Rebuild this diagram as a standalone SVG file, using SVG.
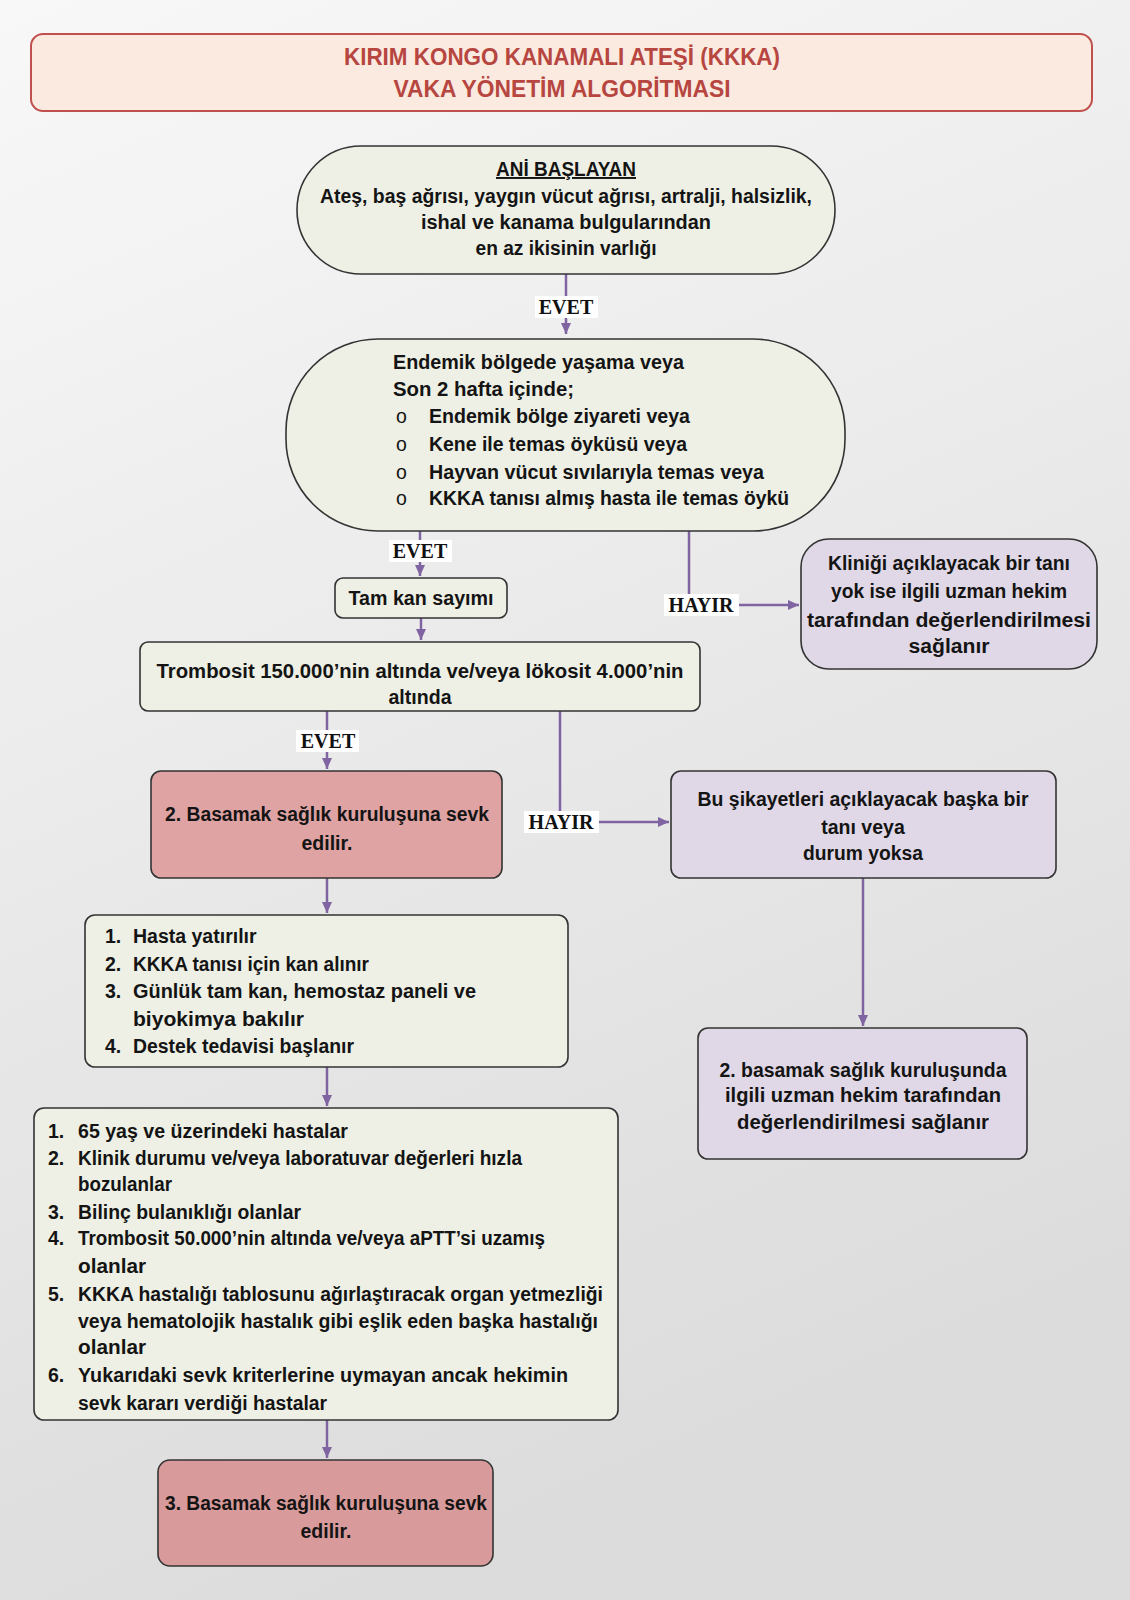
<svg xmlns="http://www.w3.org/2000/svg" width="1130" height="1600" viewBox="0 0 1130 1600">
<defs>
<linearGradient id="bg" x1="0" y1="0" x2="0.3" y2="1">
<stop offset="0" stop-color="#f8f8f8"/>
<stop offset="1" stop-color="#dcdcdc"/>
</linearGradient>
<marker id="ah" markerUnits="userSpaceOnUse" markerWidth="12" markerHeight="12" refX="11" refY="6" orient="auto">
<path d="M0,1 L11,6 L0,11 z" fill="#8064a2"/>
</marker>
<style>
.t{font-family:'Liberation Sans',Arial,sans-serif;font-weight:bold;font-size:19.5px;fill:#141414}
.c{text-anchor:middle}
.ttl{font-family:'Liberation Sans',Arial,sans-serif;font-weight:bold;font-size:23px;fill:#b6463f;text-anchor:middle}
.lbl{font-family:'Liberation Serif','Times New Roman',serif;font-weight:bold;font-size:20px;fill:#111;text-anchor:middle}
.lb{fill:#ffffff}
.conn{stroke:#8064a2;stroke-width:2.5;fill:none}
.g{fill:#eef0e5;stroke:#333;stroke-width:1.6}
.p{fill:#dfa3a3;stroke:#333;stroke-width:1.6}
.p2{fill:#d89a9a;stroke:#333;stroke-width:1.6}
.v{fill:#e0d8e6;stroke:#333;stroke-width:1.6}
</style>
</defs>
<rect x="0" y="0" width="1130" height="1600" fill="url(#bg)"/>

<g id="title">
<rect x="31" y="34" width="1061" height="77" rx="12" fill="#fbeadf" stroke="#c0504d" stroke-width="2"/>
<text class="ttl" x="562" y="65" textLength="436" lengthAdjust="spacingAndGlyphs">KIRIM KONGO KANAMALI ATEŞİ (KKKA)</text>
<text class="ttl" x="562" y="97" textLength="337" lengthAdjust="spacingAndGlyphs">VAKA YÖNETİM ALGORİTMASI</text>
</g>

<g id="connectors">
<path class="conn" d="M566,274 V334" marker-end="url(#ah)"/>
<rect class="lb" x="535" y="296" width="63" height="22"/>
<text class="lbl" x="566" y="314">EVET</text>

<path class="conn" d="M420,531 V576" marker-end="url(#ah)"/>
<rect class="lb" x="389" y="540" width="63" height="22"/>
<text class="lbl" x="420" y="558">EVET</text>

<path class="conn" d="M689,531 V605 H799" marker-end="url(#ah)"/>
<rect class="lb" x="664" y="594" width="75" height="22"/>
<text class="lbl" x="701" y="612">HAYIR</text>

<path class="conn" d="M421,618 V640" marker-end="url(#ah)"/>

<path class="conn" d="M327,711 V769" marker-end="url(#ah)"/>
<rect class="lb" x="296" y="730" width="63" height="22"/>
<text class="lbl" x="328" y="748">EVET</text>

<path class="conn" d="M560,711 V822 H669" marker-end="url(#ah)"/>
<rect class="lb" x="524" y="811" width="75" height="22"/>
<text class="lbl" x="561" y="829">HAYIR</text>

<path class="conn" d="M863,878 V1026" marker-end="url(#ah)"/>
<path class="conn" d="M327,878 V913" marker-end="url(#ah)"/>
<path class="conn" d="M327,1067 V1106" marker-end="url(#ah)"/>
<path class="conn" d="M327,1420 V1458" marker-end="url(#ah)"/>
</g>

<g id="n1">
<rect class="g" x="297" y="146" width="538" height="128" rx="64" ry="64"/>
<text class="t c" x="566" y="176" textLength="140" lengthAdjust="spacingAndGlyphs" text-decoration="underline">ANİ BAŞLAYAN</text>
<text class="t c" x="566" y="203" textLength="492" lengthAdjust="spacingAndGlyphs">Ateş, baş ağrısı, yaygın vücut ağrısı, artralji, halsizlik,</text>
<text class="t c" x="566" y="229" textLength="290" lengthAdjust="spacingAndGlyphs">ishal ve kanama bulgularından</text>
<text class="t c" x="566" y="255" textLength="181" lengthAdjust="spacingAndGlyphs">en az ikisinin varlığı</text>
</g>

<g id="n2">
<rect class="g" x="286" y="339" width="559" height="192" rx="92" ry="92"/>
<text class="t" x="393" y="369" textLength="291" lengthAdjust="spacingAndGlyphs">Endemik bölgede yaşama veya</text>
<text class="t" x="393" y="396" textLength="181" lengthAdjust="spacingAndGlyphs">Son 2 hafta içinde;</text>
<text class="t" x="396" y="423" style="font-weight:normal">o</text>
<text class="t" x="429" y="423" textLength="261" lengthAdjust="spacingAndGlyphs">Endemik bölge ziyareti veya</text>
<text class="t" x="396" y="451" style="font-weight:normal">o</text>
<text class="t" x="429" y="451" textLength="258" lengthAdjust="spacingAndGlyphs">Kene ile temas öyküsü veya</text>
<text class="t" x="396" y="479" style="font-weight:normal">o</text>
<text class="t" x="429" y="479" textLength="335" lengthAdjust="spacingAndGlyphs">Hayvan vücut sıvılarıyla temas veya</text>
<text class="t" x="396" y="505" style="font-weight:normal">o</text>
<text class="t" x="429" y="505" textLength="360" lengthAdjust="spacingAndGlyphs">KKKA tanısı almış hasta ile temas öykü</text>
</g>

<g id="n3">
<rect class="g" x="335" y="578" width="172" height="40" rx="8"/>
<text class="t c" x="421" y="605" textLength="145" lengthAdjust="spacingAndGlyphs">Tam kan sayımı</text>
</g>

<g id="n4">
<rect class="v" x="801" y="539" width="296" height="130" rx="28"/>
<text class="t c" x="949" y="570" textLength="242" lengthAdjust="spacingAndGlyphs">Kliniği açıklayacak bir tanı</text>
<text class="t c" x="949" y="598" textLength="236" lengthAdjust="spacingAndGlyphs">yok ise ilgili uzman hekim</text>
<text class="t c" x="949" y="627" textLength="284" lengthAdjust="spacingAndGlyphs">tarafından değerlendirilmesi</text>
<text class="t c" x="949" y="653" textLength="81" lengthAdjust="spacingAndGlyphs">sağlanır</text>
</g>

<g id="n5">
<rect class="g" x="140" y="642" width="560" height="69" rx="8"/>
<text class="t c" x="420" y="678" textLength="527" lengthAdjust="spacingAndGlyphs">Trombosit 150.000’nin altında ve/veya lökosit 4.000’nin</text>
<text class="t c" x="420" y="704" textLength="63" lengthAdjust="spacingAndGlyphs">altında</text>
</g>

<g id="n6">
<rect class="p" x="151" y="771" width="351" height="107" rx="10"/>
<text class="t c" x="327" y="821" textLength="324" lengthAdjust="spacingAndGlyphs">2. Basamak sağlık kuruluşuna sevk</text>
<text class="t c" x="327" y="850">edilir.</text>
</g>

<g id="n7">
<rect class="v" x="671" y="771" width="385" height="107" rx="10"/>
<text class="t c" x="863" y="806" textLength="331" lengthAdjust="spacingAndGlyphs">Bu şikayetleri açıklayacak başka bir</text>
<text class="t c" x="863" y="834">tanı veya</text>
<text class="t c" x="863" y="860" textLength="120" lengthAdjust="spacingAndGlyphs">durum yoksa</text>
</g>

<g id="n8">
<rect class="v" x="698" y="1028" width="329" height="131" rx="10"/>
<text class="t c" x="863" y="1077" textLength="287" lengthAdjust="spacingAndGlyphs">2. basamak sağlık kuruluşunda</text>
<text class="t c" x="863" y="1102" textLength="276" lengthAdjust="spacingAndGlyphs">ilgili uzman hekim tarafından</text>
<text class="t c" x="863" y="1129" textLength="252" lengthAdjust="spacingAndGlyphs">değerlendirilmesi sağlanır</text>
</g>

<g id="n9">
<rect class="g" x="85" y="915" width="483" height="152" rx="10"/>
<text class="t" x="105" y="943">1.</text>
<text class="t" x="133" y="943">Hasta yatırılır</text>
<text class="t" x="105" y="971">2.</text>
<text class="t" x="133" y="971" textLength="236" lengthAdjust="spacingAndGlyphs">KKKA tanısı için kan alınır</text>
<text class="t" x="105" y="998">3.</text>
<text class="t" x="133" y="998" textLength="343" lengthAdjust="spacingAndGlyphs">Günlük tam kan, hemostaz paneli ve</text>
<text class="t" x="133" y="1026" textLength="171" lengthAdjust="spacingAndGlyphs">biyokimya bakılır</text>
<text class="t" x="105" y="1053">4.</text>
<text class="t" x="133" y="1053" textLength="221" lengthAdjust="spacingAndGlyphs">Destek tedavisi başlanır</text>
</g>

<g id="n10">
<rect class="g" x="34" y="1108" width="584" height="312" rx="10"/>
<text class="t" x="48" y="1138">1.</text>
<text class="t" x="78" y="1138" textLength="270" lengthAdjust="spacingAndGlyphs">65 yaş ve üzerindeki hastalar</text>
<text class="t" x="48" y="1165">2.</text>
<text class="t" x="78" y="1165" textLength="444" lengthAdjust="spacingAndGlyphs">Klinik durumu ve/veya laboratuvar değerleri hızla</text>
<text class="t" x="78" y="1191" textLength="94" lengthAdjust="spacingAndGlyphs">bozulanlar</text>
<text class="t" x="48" y="1219">3.</text>
<text class="t" x="78" y="1219" textLength="223" lengthAdjust="spacingAndGlyphs">Bilinç bulanıklığı olanlar</text>
<text class="t" x="48" y="1245">4.</text>
<text class="t" x="78" y="1245" textLength="467" lengthAdjust="spacingAndGlyphs">Trombosit 50.000’nin altında ve/veya aPTT’si uzamış</text>
<text class="t" x="78" y="1273" textLength="68" lengthAdjust="spacingAndGlyphs">olanlar</text>
<text class="t" x="48" y="1301">5.</text>
<text class="t" x="78" y="1301" textLength="525" lengthAdjust="spacingAndGlyphs">KKKA hastalığı tablosunu ağırlaştıracak organ yetmezliği</text>
<text class="t" x="78" y="1328" textLength="520" lengthAdjust="spacingAndGlyphs">veya hematolojik hastalık gibi eşlik eden başka hastalığı</text>
<text class="t" x="78" y="1354" textLength="68" lengthAdjust="spacingAndGlyphs">olanlar</text>
<text class="t" x="48" y="1382">6.</text>
<text class="t" x="78" y="1382" textLength="490" lengthAdjust="spacingAndGlyphs">Yukarıdaki sevk kriterlerine uymayan ancak hekimin</text>
<text class="t" x="78" y="1410" textLength="249" lengthAdjust="spacingAndGlyphs">sevk kararı verdiği hastalar</text>
</g>

<g id="n11">
<rect class="p2" x="158" y="1460" width="335" height="106" rx="12"/>
<text class="t c" x="326" y="1510" textLength="322" lengthAdjust="spacingAndGlyphs">3. Basamak sağlık kuruluşuna sevk</text>
<text class="t c" x="326" y="1538">edilir.</text>
</g>
</svg>
